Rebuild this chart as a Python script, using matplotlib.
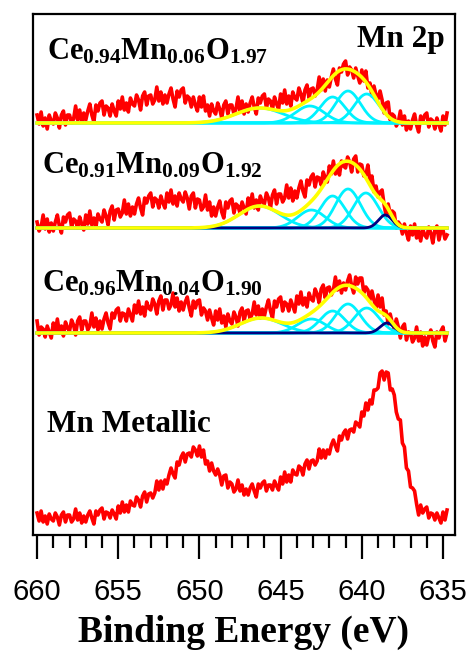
import numpy as np
import matplotlib
matplotlib.use("Agg")
import matplotlib.pyplot as plt
from matplotlib.ticker import MultipleLocator

plt.rcParams['mathtext.fontset'] = 'custom'
plt.rcParams['mathtext.bf'] = 'Liberation Serif:bold'
plt.rcParams['mathtext.rm'] = 'Liberation Serif:bold'

# binding energy grid of the measured spectra (eV), 0.125 eV step
energy = np.linspace(660.0, 634.75, 203)

# measured intensities (a.u., relative to each baseline), read off the figure
# one row per eV, 660 -> 635
spec_006 = [8, -1, 11, -3, 5, -6, 8, 2,
            -1, 10, 5, -5, 8, 12, -2, 8,
            8, 0, 4, 17, 3, 13, 1, 10,
            3, 12, 19, 8, 1, 18, 12, 20,
            22, 8, 17, 15, 7, 19, 12, 7,
            22, 14, 26, 13, 20, 11, 25, 19,
            17, 28, 23, 13, 27, 31, 18, 27,
            28, 19, 23, 36, 22, 31, 19, 28,
            20, 29, 35, 24, 16, 32, 26, 33,
            35, 20, 27, 25, 16, 26, 18, 12,
            26, 16, 27, 12, 18, 7, 19, 12,
            9, 20, 14, 5, 18, 22, 9, 18,
            18, 9, 14, 26, 12, 22, 9, 19,
            11, 20, 26, 16, 9, 25, 20, 27,
            29, 15, 24, 22, 14, 26, 19, 14,
            29, 20, 33, 19, 27, 17, 31, 25,
            23, 35, 29, 20, 33, 38, 25, 34,
            35, 27, 33, 46, 33, 44, 32, 43,
            36, 46, 54, 44, 38, 55, 51, 59,
            62, 48, 56, 53, 45, 55, 47, 40,
            53, 42, 52, 35, 40, 27, 37, 28,
            24, 32, 23, 10, 20, 21, 3, 9,
            7, -3, 1, 12, -2, 7, -7, 2,
            -6, 3, 9, -2, -9, 7, 1, 8,
            10, -4, 4, 2, -6, 5, -2, -8,
            7, -2, 10]
spec_009 = [6, -3, 1, 13, -1, 9, -4, 5,
            -3, 6, 13, 2, -5, 11, 6, 13,
            15, 1, 9, 7, 0, 11, 4, -2,
            13, 4, 17, 3, 10, 1, 14, 9,
            6, 18, 12, 3, 17, 22, 8, 18,
            19, 11, 15, 28, 14, 24, 12, 21,
            14, 24, 30, 20, 13, 30, 25, 32,
            35, 21, 30, 28, 20, 32, 25, 20,
            35, 26, 38, 24, 32, 22, 35, 29,
            26, 36, 30, 19, 32, 35, 20, 29,
            28, 18, 21, 33, 18, 26, 12, 21,
            12, 21, 27, 16, 10, 26, 20, 27,
            29, 15, 24, 22, 15, 26, 20, 14,
            30, 21, 34, 20, 28, 18, 32, 26,
            24, 35, 30, 20, 33, 38, 24, 34,
            34, 26, 30, 43, 30, 40, 27, 37,
            30, 40, 47, 37, 31, 48, 43, 51,
            54, 41, 51, 50, 43, 56, 50, 46,
            62, 54, 67, 54, 62, 53, 67, 62,
            60, 71, 66, 56, 69, 72, 56, 64,
            63, 52, 53, 63, 46, 52, 36, 42,
            31, 36, 38, 23, 12, 24, 14, 17,
            15, 0, 6, 3, -6, 4, -5, -12,
            2, -7, 4, -10, -3, -13, -1, -7,
            -10, 1, -5, -15, -2, 2, -12, -3,
            -2, -11, -7]
spec_004 = [12, -2, 6, 4, -4, 7, 1, -5,
            10, 1, 14, 0, 7, -3, 11, 5,
            2, 13, 8, -2, 12, 16, 3, 12,
            12, 3, 7, 20, 6, 15, 3, 12,
            4, 14, 20, 10, 4, 20, 15, 23,
            25, 12, 20, 19, 12, 24, 18, 12,
            28, 20, 32, 19, 26, 17, 31, 25,
            23, 34, 29, 19, 32, 37, 23, 33,
            33, 24, 28, 40, 26, 35, 22, 31,
            23, 31, 36, 25, 17, 32, 25, 32,
            33, 18, 25, 22, 13, 23, 15, 8,
            22, 13, 24, 10, 17, 6, 19, 12,
            9, 21, 16, 7, 21, 25, 12, 22,
            23, 14, 19, 31, 18, 27, 15, 24,
            17, 26, 33, 22, 15, 32, 26, 34,
            36, 22, 31, 29, 22, 33, 27, 21,
            37, 29, 41, 28, 35, 26, 40, 34,
            32, 44, 39, 30, 44, 48, 35, 45,
            46, 38, 43, 56, 43, 52, 40, 50,
            43, 52, 58, 47, 40, 56, 49, 55,
            55, 40, 46, 43, 33, 42, 33, 25,
            38, 26, 35, 18, 22, 9, 19, 10,
            4, 14, 6, -5, 6, 9, -7, 1,
            0, -9, -5, 6, -8, 1, -13, -4,
            -12, -3, 3, -8, -14, 1, -5, 2,
            6, -8, 0]
spec_metal = [4, -4, 6, -5, 1, -7, 3, -2,
              -4, 4, 0, -8, 2, 5, -5, 2,
              2, -5, -2, 8, -3, 4, -6, 1,
              -5, 2, 6, -1, -7, 6, 2, 7,
              9, -2, 5, 4, -1, 7, 3, -2,
              11, 4, 15, 5, 12, 5, 16, 12,
              11, 20, 17, 10, 21, 25, 15, 23,
              24, 19, 24, 36, 27, 36, 28, 37,
              33, 42, 49, 43, 39, 55, 52, 60,
              64, 55, 63, 64, 60, 70, 67, 61,
              71, 60, 67, 53, 56, 46, 54, 46,
              42, 48, 42, 32, 41, 42, 29, 35,
              33, 25, 28, 37, 26, 32, 22, 28,
              22, 29, 33, 26, 20, 33, 29, 34,
              36, 26, 32, 32, 27, 36, 31, 27,
              40, 33, 45, 35, 42, 35, 47, 43,
              42, 51, 49, 42, 53, 57, 48, 56,
              57, 52, 56, 68, 59, 67, 59, 67,
              63, 72, 77, 71, 66, 81, 77, 84,
              87, 78, 87, 88, 85, 95, 93, 90,
              105, 101, 114, 107, 117, 113, 127, 127,
              129, 144, 146, 137, 145, 144, 127, 128,
              122, 105, 98, 97, 74, 70, 49, 46,
              30, 29, 26, 13, 2, 12, 4, 8,
              10, -1, 4, 3, -3, 4, -1, -6,
              5, -3, 7]

spectra = [spec_006, spec_009, spec_004, spec_metal]
offsets = [412, 307, 202, 18]

# fitted components: centre (eV), height, FWHM (eV)
fit_centers = [[646.3, 643.2, 641.8, 640.85, 639.7],
               [646.3, 643.1, 641.8, 640.85, 639.75],
               [646.2, 643.1, 641.8, 640.85, 639.7]]
fit_heights = [[15, 17, 26, 32, 29],
               [22, 18, 32, 39, 35],
               [15, 14, 22, 29, 25]]
fit_fwhm = [[3.4, 2.1, 1.8, 1.8, 1.8],
            [3.0, 2.0, 1.8, 1.8, 1.8],
            [3.0, 2.0, 1.8, 1.8, 1.8]]
# low energy component, none for the first sample
low_center = [None, 638.55, 638.45]
low_height = [0, 13, 10]
low_fwhm = [1.0, 1.0, 1.0]

labels = [r'$\mathbf{Ce_{0.94}Mn_{0.06}O_{1.97}}$',
          r'$\mathbf{Ce_{0.91}Mn_{0.09}O_{1.92}}$',
          r'$\mathbf{Ce_{0.96}Mn_{0.04}O_{1.90}}$']


def gauss(x, c, h, w):
    s = w / 2.3548
    return h * np.exp(-(x - c) ** 2 / (2 * s * s))


fig = plt.figure(figsize=(4.71, 6.52), dpi=100)
ax = fig.add_axes([33 / 471, 117 / 652, 422 / 471, 521 / 652])

for spec, off in zip(spectra, offsets):
    ax.plot(energy, np.array(spec) + off, color='#ff0000', lw=2.6, zorder=1)

xf = np.linspace(660.0, 634.75, 500)
for k in range(3):
    off = offsets[k]
    total = np.zeros_like(xf)
    for c, h, w in zip(fit_centers[k], fit_heights[k], fit_fwhm[k]):
        g = gauss(xf, c, h, w)
        total += g
        ax.plot(xf, g + off, color='#00f2ff', lw=2.0, zorder=2)
    if low_center[k] is not None:
        g = gauss(xf, low_center[k], low_height[k], low_fwhm[k])
        total += g
        ax.plot(xf, g + off, color='#000080', lw=2.0, zorder=3)
    ax.plot(xf, total + off, color='#ffff00', lw=2.6, zorder=4)

ax.set_xlim(660.25, 634.26)
ax.set_ylim(0, 521)

tx = ax.transAxes
ax.text(14 / 422, (535 - 59) / 521, labels[0], fontsize=22, transform=tx, va='baseline')
ax.text(9 / 422, (535 - 173) / 521, labels[1], fontsize=22, transform=tx, va='baseline')
ax.text(9 / 422, (535 - 292) / 521, labels[2], fontsize=22, transform=tx, va='baseline')
ax.text(412 / 422, (535 - 47) / 521, 'Mn 2p', fontsize=22.5, family='Liberation Serif',
        weight='bold', transform=tx, ha='right', va='baseline')
ax.text(14 / 422, (535 - 432) / 521, 'Mn Metallic', fontsize=22.5, family='Liberation Serif',
        weight='bold', transform=tx, va='baseline')

for sp in ax.spines.values():
    sp.set_linewidth(1.6)

ax.set_yticks([])
ax.xaxis.set_major_locator(MultipleLocator(5))
ax.xaxis.set_minor_locator(MultipleLocator(1))
ax.tick_params(axis='x', which='major', direction='out', length=17, width=1.6,
               pad=14, labelsize=21, top=False)
ax.tick_params(axis='x', which='minor', direction='out', length=9.5, width=1.6, top=False)
for lb in ax.get_xticklabels():
    lb.set_family('Liberation Sans')

ax.set_xlabel('Binding Energy (eV)', fontsize=27, family='Liberation Serif',
              weight='bold', labelpad=6)

fig.savefig('out.png', dpi=100)
